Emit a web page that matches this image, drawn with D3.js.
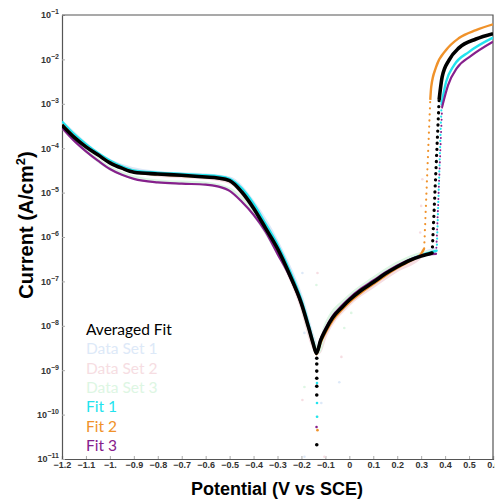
<!DOCTYPE html>
<html>
<head>
<meta charset="utf-8">
<script src="https://cdn.jsdelivr.net/npm/d3@7"></script>
<style>
  body { margin: 0; background: #fff; }
  svg { display: block; }
</style>
</head>
<body>
<svg id="chart" width="495" height="499"></svg>
<script>
// [potential (V vs SCE), log10 current (A/cm2)]
const averagedFit = [[-1.2,-3.48],[-1.15,-3.75],[-1.1,-3.97],[-1.05,-4.15],[-1.0,-4.33],[-0.95,-4.45],[-0.9,-4.54],[-0.8,-4.58],[-0.7,-4.61],[-0.6,-4.65],[-0.55,-4.67],[-0.5,-4.73],[-0.45,-4.98],[-0.4,-5.35],[-0.35,-5.8],[-0.3,-6.26],[-0.25,-6.84],[-0.2,-7.5],[-0.17,-8.04],[-0.15,-8.42],[-0.1375,-8.62],[-0.12,-8.33],[-0.1,-8.1],[-0.07,-7.82],[-0.03,-7.58],[0,-7.42],[0.05,-7.2],[0.1,-7.02],[0.15,-6.83],[0.2,-6.67],[0.25,-6.53],[0.3,-6.43],[0.346,-6.36]]
const averagedFitUpper = [[0.375,-2.91],[0.3875,-2.4],[0.417,-2.01],[0.458,-1.74],[0.529,-1.54],[0.6,-1.42]]
const averagedFitSpike = [[-0.136,-8.73],[-0.136,-8.86],[-0.136,-9.02],[-0.136,-9.18],[-0.136,-9.36],[-0.136,-9.56],[-0.136,-10.68]]

const fit1 = [[-1.2,-3.4],[-1.15,-3.68],[-1.1,-3.91],[-1.05,-4.11],[-1.0,-4.28],[-0.95,-4.41],[-0.9,-4.5],[-0.8,-4.55],[-0.7,-4.58],[-0.6,-4.61],[-0.55,-4.63],[-0.5,-4.69],[-0.45,-4.9],[-0.4,-5.25],[-0.35,-5.7],[-0.3,-6.17],[-0.25,-6.74],[-0.2,-7.42],[-0.17,-7.97],[-0.15,-8.38],[-0.136,-8.62],[-0.12,-8.34],[-0.1,-8.1],[-0.07,-7.82],[-0.03,-7.57],[0,-7.41],[0.05,-7.19],[0.1,-7.0],[0.15,-6.82],[0.2,-6.66],[0.25,-6.52],[0.3,-6.41],[0.365,-6.31]]
const fit1Upper = [[0.385,-3.0],[0.404,-2.51],[0.4375,-2.13],[0.5,-1.83],[0.6,-1.51]]
const fit1Spike = [[-0.135,-9.29],[-0.135,-9.74],[-0.135,-10.05]]

const fit2 = [[-1.2,-3.47],[-1.15,-3.74],[-1.1,-3.96],[-1.05,-4.15],[-1.0,-4.32],[-0.95,-4.45],[-0.9,-4.54],[-0.8,-4.59],[-0.7,-4.62],[-0.6,-4.65],[-0.55,-4.67],[-0.5,-4.74],[-0.45,-4.98],[-0.4,-5.35],[-0.35,-5.82],[-0.3,-6.28],[-0.25,-6.86],[-0.2,-7.52],[-0.17,-8.06],[-0.15,-8.44],[-0.1375,-8.64],[-0.12,-8.38],[-0.1,-8.16],[-0.07,-7.88],[-0.03,-7.63],[0,-7.47],[0.05,-7.25],[0.1,-7.06],[0.15,-6.87],[0.2,-6.7],[0.25,-6.55],[0.3,-6.38],[0.3125,-6.26]]
const fit2Upper = [[0.338,-2.91],[0.342,-2.62],[0.3625,-2.17],[0.404,-1.79],[0.458,-1.52],[0.529,-1.34],[0.6,-1.21]]
const fit2Spike = [[-0.133,-10.35]]

const fit3 = [[-1.2,-3.54],[-1.15,-3.83],[-1.1,-4.07],[-1.05,-4.28],[-1.0,-4.47],[-0.95,-4.6],[-0.9,-4.69],[-0.8,-4.77],[-0.7,-4.8],[-0.6,-4.82],[-0.55,-4.86],[-0.5,-4.96],[-0.45,-5.2],[-0.4,-5.5],[-0.35,-5.88],[-0.3,-6.38],[-0.25,-6.88],[-0.2,-7.52],[-0.17,-8.04],[-0.15,-8.42],[-0.1375,-8.62],[-0.12,-8.3],[-0.1,-8.06],[-0.07,-7.78],[-0.03,-7.54],[0,-7.38],[0.05,-7.16],[0.1,-6.98],[0.15,-6.8],[0.2,-6.64],[0.25,-6.51],[0.3,-6.42],[0.3625,-6.38]]
const fit3Upper = [[0.3875,-3.07],[0.4125,-2.58],[0.45,-2.19],[0.508,-1.92],[0.6,-1.6]]
const fit3Spike = [[-0.137,-10.28]]

const dataSet1 = [[-1.2,-3.42],[-1.0,-4.29],[-0.8,-4.56],[-0.6,-4.61],[-0.5,-4.68],[-0.4,-5.24],[-0.3,-6.14],[-0.2,-7.38],[-0.15,-8.3],[-0.13,-8.55],[-0.1,-8.04],[0,-7.36],[0.1,-6.96],[0.2,-6.62],[0.3,-6.38],[0.36,-6.28]]
const dataSet1Stray = [[-0.196,-6.81],[-0.1875,-8.16],[-0.042,-9.27],[-0.117,-9.74],[-0.1875,-10.95]]
const dataSet2 = [[-1.2,-3.46],[-1.0,-4.31],[-0.8,-4.6],[-0.6,-4.66],[-0.5,-4.76],[-0.4,-5.38],[-0.3,-6.3],[-0.2,-7.55],[-0.15,-8.46],[-0.13,-8.6],[-0.1,-8.2],[0,-7.5],[0.1,-7.1],[0.2,-6.74],[0.3,-6.42],[0.31,-6.3]]
const dataSet2Stray = [[-0.133,-6.81],[-0.196,-7.49],[-0.033,-8.7],[-0.196,-9.67],[-0.104,-10.95],[0.296,-5.9],[0.3,-5.3],[0.305,-4.7]]
const dataSet3 = [[-1.2,-3.52],[-1.0,-4.45],[-0.8,-4.75],[-0.6,-4.8],[-0.5,-4.93],[-0.4,-5.47],[-0.3,-6.34],[-0.2,-7.47],[-0.15,-8.38],[-0.13,-8.58],[-0.1,-8.02],[0,-7.34],[0.1,-6.94],[0.2,-6.6],[0.3,-6.38],[0.36,-6.34]]
const dataSet3Stray = [[-0.1375,-7.08],[-0.1875,-9.38],[-0.133,-10.05],[-0.021,-8.05],[0.008,-7.71]]

const legendLabels = ['Averaged Fit', 'Data Set 1', 'Data Set 2', 'Data Set 3', 'Fit 1', 'Fit 2', 'Fit 3']
const legendColors = ['#000000', '#dde9f8', '#f6dde2', '#ddf6e3', '#22e3ee', '#f0922a', '#86208c']

const xTicks = [-1.2,-1.1,-1.0,-0.9,-0.8,-0.7,-0.6,-0.5,-0.4,-0.3,-0.2,-0.1,0,0.1,0.2,0.3,0.4,0.5,0.6]
const yTickExps = [-11,-10,-9,-8,-7,-6,-5,-4,-3,-2,-1]

const svg = d3.select('#chart')
const plotLeft = 62, plotRight = 493, plotTop = 15, plotBottom = 459

const x = d3.scaleLinear().domain([-1.2, 0.6]).range([plotLeft, plotRight])
const y = d3.scaleLog().domain([1e-11, 1e-1]).range([plotBottom, plotTop])

svg.append('defs').append('clipPath').attr('id', 'plot-clip')
  .append('rect').attr('x', plotLeft).attr('y', plotTop)
  .attr('width', plotRight - plotLeft).attr('height', plotBottom - plotTop)

const fmtX = v => {
  if (v === 0) return '0'
  let s = d3.format('.1f')(Math.abs(v))
  if (s === '1.0') s = '1.'
  return (v < 0 ? '\u2212' : '') + s
}

// axes
const xAxis = svg.append('g')
  .attr('transform', `translate(0,${plotBottom})`)
  .call(d3.axisBottom(x).tickValues(xTicks).tickFormat(fmtX).tickSize(-3).tickPadding(3))
const yAxis = svg.append('g')
  .attr('transform', `translate(${plotLeft},0)`)
  .call(d3.axisLeft(y).tickValues(yTickExps.map(e => Math.pow(10, e))).tickSize(-3).tickPadding(3))

;[xAxis, yAxis].forEach(a => {
  a.select('.domain').attr('stroke', '#555').attr('stroke-width', 1.2)
  a.selectAll('.tick line').attr('stroke', '#aaa')
  a.selectAll('.tick text')
    .attr('fill', '#333')
    .style('font-family', 'Liberation Sans, Arial, sans-serif')
    .style('font-weight', 'bold')
    .style('font-size', '9px')
})

yAxis.selectAll('.tick text').each(function (d) {
  const t = d3.select(this).text('')
  t.append('tspan').text('10')
  t.append('tspan').attr('dy', -4).style('font-size', '7px')
    .text('\u2212' + Math.abs(Math.round(Math.log10(d))))
})

// frame top and right
svg.append('path')
  .attr('d', `M${plotLeft},${plotTop}H${plotRight}V${plotBottom}`)
  .attr('fill', 'none').attr('stroke', '#555').attr('stroke-width', 1.2)

const plot = svg.append('g').attr('clip-path', 'url(#plot-clip)')

const line = d3.line()
  .curve(d3.curveMonotoneX)
  .x(d => x(d[0]))
  .y(d => y(Math.pow(10, d[1])))

// faint measured data
const dataSets = [
  [dataSet1, dataSet1Stray, legendColors[1]],
  [dataSet2, dataSet2Stray, legendColors[2]],
  [dataSet3, dataSet3Stray, legendColors[3]]
]
dataSets.forEach(([pts, stray, col]) => {
  plot.append('path').datum(pts)
    .attr('fill', 'none').attr('stroke', col).attr('stroke-width', 4)
    .attr('d', line)
  plot.append('g').selectAll('circle').data(stray).join('circle')
    .attr('cx', d => x(d[0])).attr('cy', d => y(Math.pow(10, d[1])))
    .attr('r', 1.3).attr('fill', col)
})

// fits, drawn with the averaged fit on top
const fits = [
  [fit1, fit1Upper, fit1Spike, legendColors[4], 2.4, 1.3],
  [fit2, fit2Upper, fit2Spike, legendColors[5], 2.4, 1.3],
  [fit3, fit3Upper, fit3Spike, legendColors[6], 2.2, 1.3],
  [averagedFit, averagedFitUpper, averagedFitSpike, legendColors[0], 3.6, 1.8]
]
fits.forEach(([lower, upper, spike, col, w, r]) => {
  plot.append('path').datum(lower)
    .attr('fill', 'none').attr('stroke', col).attr('stroke-width', w)
    .attr('d', line)
  plot.append('path').datum(upper)
    .attr('fill', 'none').attr('stroke', col).attr('stroke-width', w)
    .attr('d', line)
  // vertical jump between the two branches, sampled sparsely
  plot.append('path').datum([lower[lower.length - 1], upper[0]])
    .attr('fill', 'none').attr('stroke', col).attr('stroke-width', w * 0.9)
    .attr('stroke-linecap', 'round').attr('stroke-dasharray', '0.1,6')
    .attr('d', d3.line().x(d => x(d[0])).y(d => y(Math.pow(10, d[1]))))
  plot.append('g').selectAll('circle').data(spike).join('circle')
    .attr('cx', d => x(d[0])).attr('cy', d => y(Math.pow(10, d[1])))
    .attr('r', r).attr('fill', col)
})

// legend
svg.append('g').selectAll('text').data(legendLabels).join('text')
  .attr('x', 86)
  .attr('y', (d, i) => 335 + i * 19.3)
  .attr('fill', (d, i) => legendColors[i])
  .style('font-family', 'Lato, Open Sans, sans-serif')
  .style('font-size', '15.5px')
  .text(d => d)

// axis titles
svg.append('text')
  .attr('x', 277).attr('y', 495)
  .attr('text-anchor', 'middle')
  .style('font-family', 'Liberation Sans, Arial, sans-serif')
  .style('font-weight', 'bold').style('font-size', '18px')
  .text('Potential (V vs SCE)')

const yTitle = svg.append('text')
  .attr('transform', 'translate(33,225) rotate(-90)')
  .attr('text-anchor', 'middle')
  .style('font-family', 'Liberation Sans, Arial, sans-serif')
  .style('font-weight', 'bold').style('font-size', '20px')
yTitle.append('tspan').text('Current (A/cm')
yTitle.append('tspan').attr('dy', -8).style('font-size', '13px').text('2')
yTitle.append('tspan').attr('dy', 8).text(')')
</script>
</body>
</html>
